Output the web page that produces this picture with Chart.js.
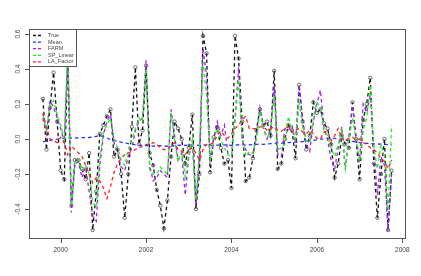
<!DOCTYPE html>
<html>
<head>
<meta charset="utf-8">
<script src="https://cdn.jsdelivr.net/npm/chart.js@4.4.1/dist/chart.umd.min.js"></script>
<style>
html,body{margin:0;padding:0;background:#fff;}
#wrap{position:relative;width:421px;height:276px;}
canvas{display:block;}
</style>
</head>
<body>
<div id="wrap"><canvas id="c" width="421" height="276"></canvas></div>
<script>
// monthly observations, Aug 1999 .. Oct 2007
const startYear = 1999, startMonth = 8;
const seriesNames = ['True', 'Mean', 'FARM', 'SP_Linear', 'LA_Factor'];
const xTicks = [2000, 2002, 2004, 2006, 2008];
const yTicks = [-0.4, -0.2, 0.0, 0.2, 0.4, 0.6];

const valuesTrue = [
 0.23, -0.06, 0.18, 0.38, 0.10, -0.18, -0.23, 0.45, -0.38, -0.12,
 -0.12, -0.17, -0.23, -0.08, -0.52, -0.30, 0.03, 0.08, 0.13, 0.17,
 -0.10, -0.06, -0.20, -0.45, -0.20, 0.07, 0.41, -0.03, 0.05, 0.42,
 -0.08, -0.15, -0.29, -0.38, -0.51, -0.35, -0.10, 0.10, 0.06, 0.00,
 -0.14, -0.05, 0.14, -0.40, -0.20, 0.59, 0.49, -0.19, 0.01, 0.07,
 -0.05, -0.14, -0.12, -0.28, 0.59, 0.46, 0.10, -0.24, -0.22, -0.11,
 0.05, 0.17, 0.08, 0.10, 0.02, 0.39, -0.17, -0.14, 0.00, 0.08,
 0.05, -0.11, 0.31, 0.10, -0.06, 0.02, 0.21, 0.15, 0.17, 0.09,
 0.06, -0.03, -0.22, -0.14, 0.02, -0.03, -0.05, 0.21, 0.00, -0.23,
 0.11, 0.20, 0.35, -0.14, -0.45, -0.20, 0.00, -0.52, -0.18];

const valuesMean = [
 -0.015, -0.012, -0.008, -0.004, 0.000, 0.003, 0.005, 0.008, 0.006, 0.006,
 0.007, 0.008, 0.008, 0.009, 0.012, 0.016, 0.020, 0.015, 0.006, -0.002,
 -0.006, -0.012, -0.018, -0.022, -0.026, -0.030, -0.032, -0.034, -0.036, -0.037,
 -0.038, -0.040, -0.039, -0.038, -0.040, -0.041, -0.040, -0.038, -0.036, -0.035,
 -0.036, -0.035, -0.033, -0.034, -0.036, -0.035, -0.033, -0.034, -0.036, -0.035,
 -0.034, -0.033, -0.035, -0.036, -0.034, -0.033, -0.032, -0.034, -0.033, -0.031,
 -0.030, -0.029, -0.030, -0.028, -0.026, -0.025, -0.024, -0.025, -0.022, -0.020,
 -0.019, -0.018, -0.016, -0.014, -0.012, -0.010, -0.008, -0.004, 0.000, 0.002,
 0.004, 0.005, 0.004, 0.002, -0.002, -0.006, -0.010, -0.013, -0.016, -0.020,
 -0.022, -0.024, -0.025, -0.027, -0.028, -0.029, -0.030, -0.032, -0.034];

const valuesFARM = [
 0.12, 0.03, 0.22, 0.18, 0.12, 0.06, -0.02, 0.50, -0.42, -0.14,
 -0.13, -0.22, -0.16, -0.30, -0.44, -0.47, -0.15, 0.02, 0.10, 0.14,
 -0.02, -0.08, -0.16, -0.18, -0.10, -0.05, 0.05, 0.10, 0.12, 0.45,
 -0.15, -0.24, -0.22, -0.18, -0.20, -0.22, 0.17, 0.02, -0.12, -0.08,
 -0.32, -0.10, -0.02, -0.38, -0.10, 0.52, 0.36, -0.12, 0.00, 0.10,
 0.02, 0.08, -0.08, -0.09, 0.12, 0.41, -0.01, -0.06, -0.09, -0.09,
 0.02, 0.18, 0.06, 0.00, 0.06, 0.31, -0.09, -0.10, 0.06, 0.05,
 0.08, -0.02, 0.31, 0.12, -0.03, -0.07, 0.10, 0.20, 0.28, 0.06,
 0.00, -0.12, -0.17, -0.05, 0.07, -0.17, 0.02, 0.19, 0.02, -0.13,
 0.20, 0.15, 0.25, -0.05, -0.32, -0.10, -0.15, -0.53, -0.20];

const valuesSP = [
 0.14, 0.05, 0.20, 0.22, 0.14, 0.08, 0.00, 0.52, -0.38, -0.12,
 -0.12, -0.18, -0.15, -0.20, -0.36, -0.39, -0.10, 0.04, 0.08, 0.12,
 0.00, -0.05, -0.12, -0.15, -0.06, 0.00, 0.06, 0.12, 0.10, 0.40,
 -0.18, -0.20, -0.20, -0.16, -0.18, -0.20, 0.15, 0.00, -0.13, -0.07,
 -0.22, -0.09, 0.00, -0.35, -0.05, 0.44, 0.25, -0.13, 0.00, 0.06,
 0.00, -0.05, -0.09, -0.10, 0.10, 0.34, 0.02, -0.10, -0.07, -0.08,
 0.00, 0.16, 0.06, 0.01, 0.04, 0.25, -0.06, -0.05, -0.03, 0.13,
 0.05, 0.00, 0.21, 0.08, -0.01, -0.02, 0.12, 0.21, 0.18, 0.05,
 0.02, -0.05, -0.10, -0.03, 0.05, -0.17, 0.00, 0.12, 0.00, -0.13,
 0.05, 0.12, 0.31, -0.05, -0.17, -0.03, -0.10, -0.41, 0.08];

const valuesLA = [
 0.15, 0.06, 0.00, -0.01, -0.02, 0.01, -0.02, -0.09, -0.04, -0.06,
 -0.08, -0.10, -0.15, -0.20, -0.25, -0.22, -0.24, -0.28, -0.34, -0.27,
 -0.19, -0.14, -0.11, -0.09, -0.08, -0.07, -0.06, -0.05, -0.04, -0.03,
 -0.03, -0.02, -0.03, -0.05, -0.06, -0.06, -0.04, -0.02, -0.06, -0.07,
 -0.09, -0.06, -0.05, -0.08, -0.12, -0.06, -0.03, -0.03, -0.02, 0.02,
 0.045, 0.02, 0.005, 0.03, 0.06, 0.08, 0.11, 0.13, 0.06, 0.06,
 0.06, 0.07, 0.07, 0.05, 0.06, 0.07, 0.05, 0.045, 0.06, 0.07,
 0.04, 0.05, 0.06, 0.04, 0.03, 0.05, 0.03, 0.005, 0.00, 0.04,
 0.045, -0.01, 0.02, 0.06, 0.00, -0.01, 0.005, 0.01, -0.005, 0.00,
 -0.02, -0.03, -0.05, -0.06, -0.08, -0.11, -0.13, -0.17, -0.12];

// time axis (decimal years) for the monthly categories
const timeIndex = valuesTrue.map((_, i) => startYear + (startMonth - 1 + i) / 12);

const colors = ['#111111', '#2233ff', '#a020f0', '#22ee22', '#ff2222'];
const seriesValues = [valuesTrue, valuesMean, valuesFARM, valuesSP, valuesLA];

const datasets = seriesValues.map((vals, k) => ({
  label: seriesNames[k],
  data: vals.map((v, i) => ({x: timeIndex[i], y: v})),
  borderColor: colors[k],
  borderWidth: 1.3,
  borderDash: [3.5, 3],
  pointRadius: k === 0 ? 1.7 : 0,
  pointStyle: 'circle',
  pointBorderWidth: 0.7,
  pointBorderColor: '#333',
  pointBackgroundColor: 'rgba(0,0,0,0)',
  fill: false,
  tension: 0,
  order: 5 - k
}));

const FONT = '"Liberation Sans", Arial, Helvetica, sans-serif';

const rFrame = {
  id: 'rFrame',
  afterDatasetsDraw(chart) {
    const {ctx, chartArea: a, scales: {x, y}} = chart;
    ctx.save();
    ctx.setLineDash([]);
    ctx.strokeStyle = '#555';
    ctx.lineWidth = 1;
    ctx.strokeRect(a.left + 0.5, a.top + 0.5, a.right - a.left - 1, a.bottom - a.top - 1);
    ctx.beginPath();
    xTicks.forEach(t => {
      const px = Math.round(x.getPixelForValue(t)) + 0.5;
      ctx.moveTo(px, a.bottom); ctx.lineTo(px, a.bottom + 4);
    });
    yTicks.forEach(t => {
      const py = Math.round(y.getPixelForValue(t)) + 0.5;
      ctx.moveTo(a.left, py); ctx.lineTo(a.left - 4, py);
    });
    ctx.stroke();
    ctx.fillStyle = '#444';
    ctx.font = '6.5px ' + FONT;
    ctx.textAlign = 'center';
    ctx.textBaseline = 'middle';
    xTicks.forEach(t => ctx.fillText(String(t), x.getPixelForValue(t), a.bottom + 11));
    yTicks.forEach(t => {
      ctx.save();
      ctx.translate(a.left - 11, y.getPixelForValue(t));
      ctx.rotate(-Math.PI / 2);
      ctx.fillText(t.toFixed(1), 0, 0);
      ctx.restore();
    });
    // legend box (top-left, over the lines)
    const lx = a.left, ly = a.top, lw = 48, lh = 38;
    ctx.fillStyle = '#fff';
    ctx.fillRect(lx, ly, lw, lh);
    ctx.strokeStyle = '#555';
    ctx.strokeRect(lx + 0.5, ly + 0.5, lw - 1, lh - 1);
    ctx.font = '5.5px ' + FONT;
    ctx.textAlign = 'left';
    seriesNames.forEach((name, k) => {
      const yy = ly + 6.5 + k * 6.6;
      ctx.strokeStyle = colors[k];
      ctx.lineWidth = 1.3;
      ctx.setLineDash([3, 2]);
      ctx.beginPath(); ctx.moveTo(lx + 4, yy); ctx.lineTo(lx + 13, yy); ctx.stroke();
      ctx.setLineDash([]);
      ctx.fillStyle = '#444';
      ctx.fillText(name, lx + 19, yy);
    });
    ctx.restore();
  }
};

new Chart(document.getElementById('c'), {
  type: 'line',
  data: {datasets},
  options: {
    responsive: false,
    animation: false,
    devicePixelRatio: 1,
    layout: {padding: {left: 29, top: 29, right: 15, bottom: 37}},
    plugins: {legend: {display: false}, tooltip: {enabled: false}},
    scales: {
      x: {type: 'linear', min: 1999.258, max: 2008.087, display: false},
      y: {type: 'linear', min: -0.571, max: 0.629, display: false}
    }
  },
  plugins: [rFrame]
});
</script>
</body>
</html>
